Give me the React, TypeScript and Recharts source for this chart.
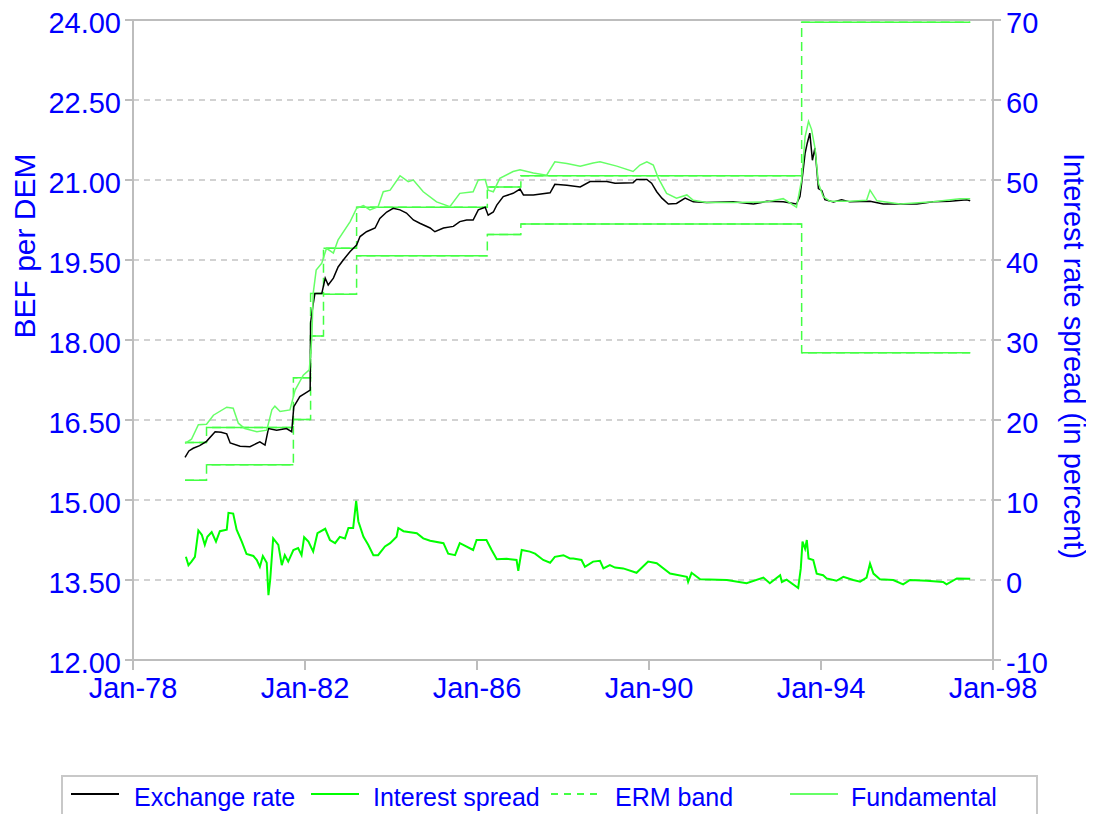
import React from 'react';
import { ComposedChart, Line, XAxis, YAxis, CartesianGrid, ReferenceLine, Legend } from 'recharts';

const FONT = '"Liberation Sans", Arial, sans-serif';
const BLUE = '#0000ff';

// ---- Exchange rate (BEF per DEM) ----
const exchangeTimes = [1979.21, 1979.30, 1979.40, 1979.55, 1979.71, 1979.91, 1980.05, 1980.18, 1980.26, 1980.49, 1980.72, 1980.95, 1981.07, 1981.15, 1981.34, 1981.57, 1981.69, 1981.74, 1981.88, 1982.00, 1982.12, 1982.13, 1982.18, 1982.23, 1982.39, 1982.47, 1982.54, 1982.66, 1982.77, 1982.89, 1983.05, 1983.20, 1983.28, 1983.43, 1983.63, 1983.74, 1983.90, 1984.05, 1984.21, 1984.36, 1984.52, 1984.67, 1984.91, 1985.02, 1985.22, 1985.45, 1985.60, 1985.76, 1985.91, 1986.03, 1986.19, 1986.26, 1986.38, 1986.46, 1986.61, 1986.84, 1987.00, 1987.08, 1987.31, 1987.70, 1987.81, 1988.09, 1988.40, 1988.63, 1989.02, 1989.21, 1989.63, 1989.71, 1989.95, 1990.06, 1990.18, 1990.30, 1990.45, 1990.64, 1990.84, 1991.03, 1991.34, 1991.96, 1992.43, 1992.74, 1993.12, 1993.43, 1993.51, 1993.55, 1993.63, 1993.68, 1993.74, 1993.80, 1993.86, 1993.94, 1994.02, 1994.09, 1994.29, 1994.48, 1994.67, 1995.14, 1995.45, 1995.84, 1996.23, 1996.61, 1997.00, 1997.39, 1997.47];
const exchangeRate = [15.80, 15.92, 15.97, 16.02, 16.10, 16.28, 16.27, 16.24, 16.07, 16.01, 16.00, 16.09, 16.03, 16.34, 16.31, 16.34, 16.28, 16.75, 16.94, 17.00, 17.06, 18.32, 18.62, 18.87, 18.87, 19.16, 19.03, 19.16, 19.37, 19.50, 19.66, 19.78, 19.94, 20.03, 20.10, 20.28, 20.40, 20.47, 20.44, 20.38, 20.25, 20.19, 20.10, 20.03, 20.10, 20.13, 20.22, 20.25, 20.25, 20.44, 20.49, 20.34, 20.40, 20.53, 20.69, 20.75, 20.83, 20.72, 20.72, 20.76, 20.92, 20.90, 20.87, 20.97, 20.97, 20.94, 20.95, 21.01, 21.01, 20.94, 20.78, 20.66, 20.55, 20.56, 20.66, 20.59, 20.58, 20.59, 20.55, 20.60, 20.59, 20.55, 20.69, 20.94, 21.50, 21.69, 21.88, 21.37, 21.60, 20.84, 20.80, 20.63, 20.59, 20.63, 20.59, 20.60, 20.55, 20.55, 20.55, 20.59, 20.60, 20.63, 20.61];

// ---- Fundamental ----
const fundamentalTimes = [1979.21, 1979.36, 1979.52, 1979.71, 1979.87, 1980.18, 1980.33, 1980.45, 1980.60, 1980.88, 1981.11, 1981.23, 1981.30, 1981.42, 1981.65, 1981.77, 1981.96, 1982.10, 1982.16, 1982.19, 1982.26, 1982.39, 1982.50, 1982.66, 1982.77, 1983.05, 1983.20, 1983.36, 1983.51, 1983.70, 1983.82, 1983.98, 1984.21, 1984.40, 1984.52, 1984.75, 1985.06, 1985.37, 1985.60, 1985.91, 1986.03, 1986.19, 1986.26, 1986.38, 1986.53, 1986.84, 1987.00, 1987.31, 1987.62, 1987.81, 1988.09, 1988.40, 1988.70, 1988.86, 1989.25, 1989.63, 1989.79, 1989.95, 1990.10, 1990.22, 1990.41, 1990.64, 1990.88, 1991.03, 1991.34, 1991.96, 1992.74, 1993.12, 1993.43, 1993.55, 1993.63, 1993.71, 1993.78, 1993.86, 1993.94, 1994.05, 1994.21, 1994.67, 1995.06, 1995.14, 1995.30, 1995.84, 1996.61, 1997.23, 1997.47];
const fundamental = [16.06, 16.14, 16.41, 16.42, 16.59, 16.74, 16.72, 16.44, 16.34, 16.28, 16.31, 16.69, 16.76, 16.66, 16.69, 17.06, 17.34, 17.44, 18.06, 18.87, 19.31, 19.44, 19.72, 19.63, 19.88, 20.22, 20.47, 20.52, 20.44, 20.50, 20.78, 20.81, 21.08, 20.97, 21.00, 20.78, 20.59, 20.50, 20.75, 20.78, 21.00, 21.01, 20.81, 20.78, 21.03, 21.16, 21.19, 21.13, 21.09, 21.34, 21.31, 21.26, 21.32, 21.34, 21.26, 21.16, 21.28, 21.34, 21.28, 21.03, 20.75, 20.66, 20.72, 20.62, 20.58, 20.58, 20.59, 20.65, 20.49, 21.00, 21.81, 22.10, 21.95, 21.60, 20.94, 20.69, 20.60, 20.60, 20.62, 20.81, 20.61, 20.55, 20.59, 20.65, 20.65];

// ---- Interest rate spread (percent, right axis) ----
const spreadTimes = [1979.23, 1979.29, 1979.36, 1979.44, 1979.52, 1979.60, 1979.67, 1979.73, 1979.83, 1979.93, 1980.02, 1980.18, 1980.22, 1980.33, 1980.41, 1980.53, 1980.64, 1980.80, 1980.88, 1980.95, 1981.02, 1981.11, 1981.15, 1981.19, 1981.26, 1981.38, 1981.46, 1981.53, 1981.61, 1981.73, 1981.84, 1981.92, 1981.98, 1982.08, 1982.19, 1982.29, 1982.47, 1982.58, 1982.70, 1982.81, 1982.93, 1983.01, 1983.12, 1983.19, 1983.24, 1983.36, 1983.47, 1983.59, 1983.70, 1983.86, 1983.98, 1984.13, 1984.17, 1984.29, 1984.60, 1984.75, 1984.91, 1985.22, 1985.33, 1985.49, 1985.60, 1985.68, 1985.91, 1985.99, 1986.22, 1986.34, 1986.46, 1986.69, 1986.92, 1986.96, 1987.04, 1987.23, 1987.35, 1987.54, 1987.70, 1987.81, 1988.01, 1988.16, 1988.24, 1988.43, 1988.51, 1988.70, 1988.86, 1988.94, 1989.09, 1989.21, 1989.40, 1989.71, 1989.98, 1990.18, 1990.49, 1990.88, 1990.91, 1990.99, 1991.19, 1991.81, 1992.27, 1992.66, 1992.81, 1993.05, 1993.09, 1993.20, 1993.47, 1993.53, 1993.57, 1993.63, 1993.67, 1993.71, 1993.82, 1993.90, 1994.05, 1994.13, 1994.36, 1994.52, 1994.75, 1994.91, 1995.06, 1995.14, 1995.22, 1995.37, 1995.68, 1995.91, 1996.07, 1996.46, 1996.84, 1996.92, 1997.16, 1997.47];
const interestSpread = [2.9, 1.85, 2.3, 2.9, 6.2, 5.65, 4.4, 5.4, 6.0, 4.8, 6.1, 6.3, 8.4, 8.3, 6.3, 4.8, 3.25, 3.0, 2.5, 1.65, 3.0, 2.15, -1.9, 0.0, 5.2, 4.4, 1.85, 3.1, 2.3, 3.75, 4.0, 3.1, 5.35, 4.8, 3.55, 5.85, 6.4, 5.0, 4.6, 5.4, 5.2, 6.5, 6.5, 9.9, 7.35, 5.4, 4.4, 3.1, 3.1, 4.2, 4.6, 5.4, 6.5, 6.1, 5.85, 5.2, 4.9, 4.6, 3.3, 3.1, 4.6, 4.4, 3.75, 5.0, 5.0, 3.75, 2.6, 2.65, 2.5, 1.15, 3.75, 3.55, 3.3, 2.5, 2.15, 2.9, 3.1, 2.7, 2.7, 2.5, 1.65, 2.3, 2.4, 1.45, 1.85, 1.55, 1.45, 0.9, 2.3, 2.1, 0.8, 0.4, -0.25, 0.9, 0.1, 0.0, -0.4, 0.3, -0.4, 0.6, -0.25, 0.05, -1.0, 1.45, 4.8, 3.9, 5.0, 2.7, 2.5, 0.8, 0.6, 0.2, -0.1, 0.4, 0.0, -0.2, 0.3, 2.05, 0.8, 0.1, 0.0, -0.55, 0.0, -0.1, -0.25, -0.55, 0.2, 0.15];

// ---- ERM band (step changes) ----
const bandTimes = [1979.21, 1979.71, 1981.73, 1982.13, 1982.43, 1983.20, 1986.24, 1987.02, 1993.55];
const bandEnd = 1997.47;
const bandUpper = [16.08, 16.36, 17.29, 18.87, 19.72, 20.49, 20.87, 21.08, 23.96];
const bandLower = [15.37, 15.66, 16.51, 18.075, 18.86, 19.58, 19.98, 20.175, 17.76];

// ---- Axis ticks ----
const leftTicks = [12, 13.5, 15, 16.5, 18, 19.5, 21, 22.5, 24];
const rightTicks = [-10, 0, 10, 20, 30, 40, 50, 60, 70];
const xTicks = [1978, 1982, 1986, 1990, 1994, 1998];

const legendItems = [
  { name: 'Exchange rate', color: '#000000', dash: undefined as string | undefined },
  { name: 'Interest spread', color: '#00ff00', dash: undefined as string | undefined },
  { name: 'ERM band', color: '#44ff44', dash: '7 6' },
  { name: 'Fundamental', color: '#66ff66', dash: undefined as string | undefined },
];

const zip = (ts: number[], vs: number[]) => ts.map((t, i) => ({ t, v: vs[i] }));
const exchangeData = zip(exchangeTimes, exchangeRate);
const fundamentalData = zip(fundamentalTimes, fundamental);
const spreadData = zip(spreadTimes, interestSpread);
const stepData = (vals: number[]) => [...zip(bandTimes, vals), { t: bandEnd, v: vals[vals.length - 1] }];
// horizontal segments only (broken at each realignment), drawn solid on top of the dashed step line
const flatData = (vals: number[]) => {
  const out: { t: number; v: number | null }[] = [];
  vals.forEach((v, i) => {
    const end = i < bandTimes.length - 1 ? bandTimes[i + 1] : bandEnd;
    out.push({ t: bandTimes[i], v });
    out.push({ t: end, v });
    if (i < vals.length - 1) out.push({ t: end, v: null });
  });
  return out;
};

const LeftTick = (p: any) => (
  <text x={p.x} y={p.y} dy={13} textAnchor="end" fill={BLUE} fontSize={29} fontFamily={FONT}>
    {Number(p.payload.value).toFixed(2)}
  </text>
);
const RightTick = (p: any) => (
  <text x={p.x} y={p.y} dy={13} textAnchor="start" fill={BLUE} fontSize={29} fontFamily={FONT}>
    {String(p.payload.value)}
  </text>
);
const BottomTick = (p: any) => (
  <text x={p.x} y={p.y} dy={26} textAnchor="middle" fill={BLUE} fontSize={29} fontFamily={FONT}>
    {'Jan-' + String(p.payload.value).slice(2)}
  </text>
);

const legendOffsets = [
  { line: 10, text: 73 },
  { line: 250, text: 312 },
  { line: 490, text: 554 },
  { line: 729, text: 790 },
];

const LegendBox = () => (
  <svg width={977} height={39} style={{ display: 'block' }}>
    <path d="M1,39 L1,1 L976,1 L976,39" fill="none" stroke="#c8c8c8" strokeWidth={2} />
    {legendItems.map((it, i) => (
      <g key={it.name}>
        <line x1={legendOffsets[i].line} x2={legendOffsets[i].line + 48} y1={19} y2={19} stroke={it.color} strokeWidth={2} strokeDasharray={it.dash} />
        <text x={legendOffsets[i].text} y={31} fill={BLUE} fontSize={25} fontFamily={FONT}>{it.name}</text>
      </g>
    ))}
  </svg>
);

const LeftTitle = () => (
  <text x={27} y={238} transform="rotate(-90, 27, 238)" textAnchor="middle" fill={BLUE} fontSize={30} fontFamily={FONT}>
    BEF per DEM
  </text>
);
const RightTitle = () => (
  <text x={1056} y={348} transform="rotate(90, 1056, 348)" textAnchor="middle" fill={BLUE} fontSize={29} fontFamily={FONT}>
    Interest rate spread (in percent)
  </text>
);

export default function App() {
  return (
    <ComposedChart width={1086} height={806} margin={{ top: 12, right: 0, bottom: 0, left: 0 }} style={{ overflow: 'visible' }}>
      <CartesianGrid yAxisId="left" horizontal vertical={false} stroke="#c4c4c4" strokeDasharray="6 5" strokeWidth={1.5} />
      <XAxis
        xAxisId={0}
        type="number"
        dataKey="t"
        domain={[1978, 1998]}
        ticks={xTicks}
        allowDataOverflow
        height={154}
        stroke="#bdbdbd"
        strokeWidth={2}
        tickSize={10}
        tickMargin={2}
        tick={BottomTick}
        interval={0}
      />
      <YAxis
        yAxisId="left"
        orientation="left"
        type="number"
        domain={[12, 24]}
        ticks={leftTicks}
        allowDataOverflow
        width={125}
        stroke="#bdbdbd"
        strokeWidth={2}
        tickSize={8}
        tickMargin={4}
        tick={LeftTick}
        interval={0}
        label={{ content: LeftTitle }}
      />
      <YAxis
        yAxisId="right"
        orientation="right"
        type="number"
        domain={[-10, 70]}
        ticks={rightTicks}
        allowDataOverflow
        width={101}
        stroke="#bdbdbd"
        strokeWidth={2}
        tickSize={8}
        tickMargin={5}
        tick={RightTick}
        interval={0}
        label={{ content: RightTitle }}
      />
      <ReferenceLine yAxisId="left" y={24} stroke="#bdbdbd" strokeWidth={2} />
      <Line yAxisId="left" data={stepData(bandUpper)} dataKey="v" type="stepAfter" stroke="#44ff44" strokeWidth={1.5} strokeDasharray="9 5" dot={false} isAnimationActive={false} legendType="none" />
      <Line yAxisId="left" data={stepData(bandLower)} dataKey="v" type="stepAfter" stroke="#44ff44" strokeWidth={1.5} strokeDasharray="9 5" dot={false} isAnimationActive={false} legendType="none" />
      <Line yAxisId="left" data={flatData(bandUpper)} dataKey="v" type="linear" stroke="#44ff44" strokeWidth={1.5} dot={false} isAnimationActive={false} legendType="none" />
      <Line yAxisId="left" data={flatData(bandLower)} dataKey="v" type="linear" stroke="#44ff44" strokeWidth={1.5} dot={false} isAnimationActive={false} legendType="none" />
      <Line yAxisId="right" data={spreadData} dataKey="v" name="Interest spread" type="linear" stroke="#00ff00" strokeWidth={2} dot={false} isAnimationActive={false} />
      <Line yAxisId="left" data={exchangeData} dataKey="v" name="Exchange rate" type="linear" stroke="#000000" strokeWidth={1.5} dot={false} isAnimationActive={false} />
      <Line yAxisId="left" data={fundamentalData} dataKey="v" name="Fundamental" type="linear" stroke="#66ff66" strokeWidth={1.5} dot={false} isAnimationActive={false} />
      <Legend
        layout="horizontal"
        verticalAlign="middle"
        align="center"
        width={977}
        wrapperStyle={{ left: 53, top: 767, width: 977, height: 39 }}
        content={LegendBox}
      />
    </ComposedChart>
  );
}
